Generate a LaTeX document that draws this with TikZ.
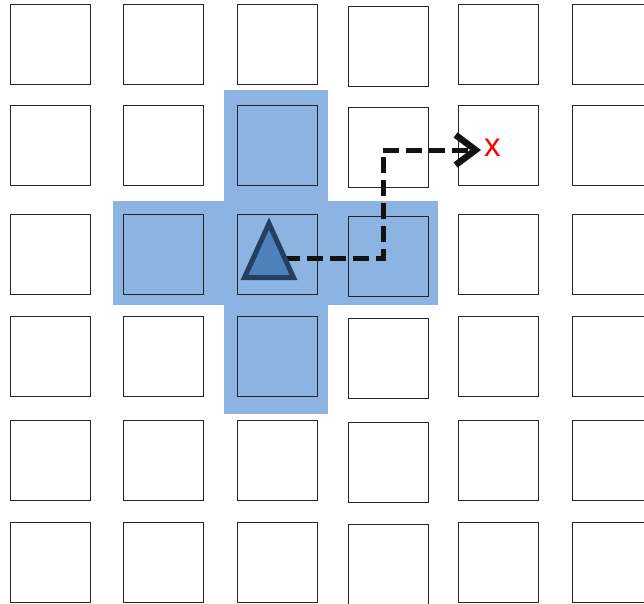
\documentclass[tikz,border=0pt]{standalone}
\usepackage{fontspec}
\setmainfont{Liberation Sans}
\usetikzlibrary{arrows.meta,shapes.geometric}

\definecolor{hlblue}{HTML}{8DB3E2}
\definecolor{agentfill}{HTML}{4F81BD}
\definecolor{agentline}{HTML}{243F60}

\begin{document}
\begin{tikzpicture}[
  x=1pt, y=-1pt,
  cell/.style={draw=black!85, line width=0.9pt, minimum size=80pt, inner sep=0pt, anchor=north west},
  hl/.style={fill=hlblue},
  agent/.style={isosceles triangle, isosceles triangle stretches, shape border rotate=90,
    draw=agentline, fill=agentfill, line width=5pt, inner sep=0pt,
    minimum width=49pt, minimum height=54pt},
  route/.style={line width=5pt, black!93, dash pattern=on 16pt off 7pt,
    -{Straight Barb[length=20pt, width=30pt, line width=6.5pt]}},
  goal/.style={text=red, font=\fontsize{33}{33}\selectfont, inner sep=0pt}
]
\useasboundingbox (0,0) rectangle (644,603);

% ---- reachable cells (cross) ----
\fill[hl] (224,90) rectangle (328,414);
\fill[hl] (113,201) rectangle (438,305);

% ---- grid ----
\foreach \c/\x/\dy in {1/10/0, 2/123/0, 3/237/0, 4/348/2, 5/458/0, 6/572/0}
  \foreach \r/\y in {1/4, 2/105, 3/214, 4/316, 5/420, 6/522}
    {\node[cell] (c\c-\r) at (\x,\y+\dy) {};}

% ---- agent and move ----
\coordinate (start) at (284,258);
\coordinate (bend) at (383,150);
\coordinate (target) at (481,150);
\draw[route] (start) -| (bend) -- (target);
\node[agent, anchor=south] (tri) at (269,280) {};
\node[goal, anchor=west] (x) at (484,148) {x};

\end{tikzpicture}
\end{document}
